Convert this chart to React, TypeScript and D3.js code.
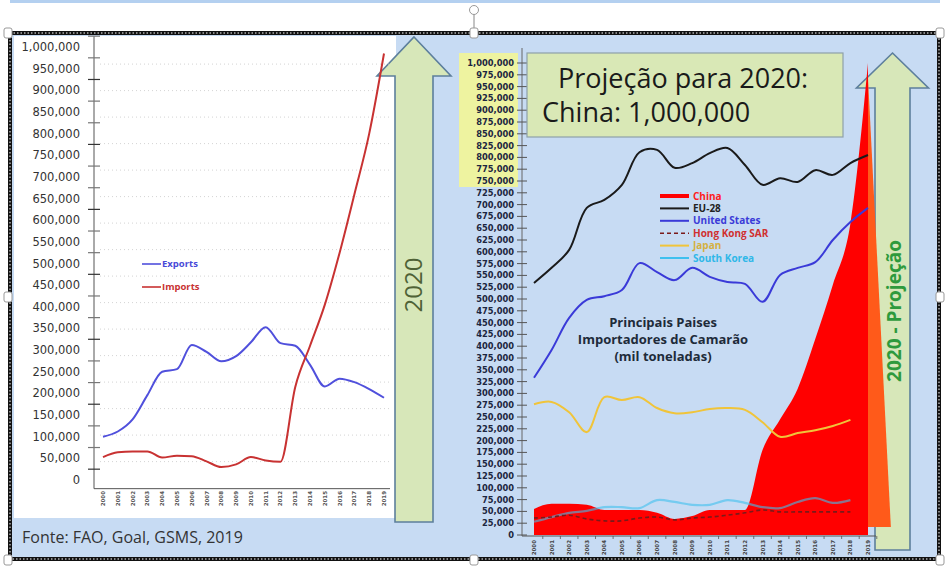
import React from "react";
import * as d3 from "d3";

// ---------- DATA ----------
const years = ["2000","2001","2002","2003","2004","2005","2006","2007","2008","2009","2010","2011","2012","2013","2014","2015","2016","2017","2018","2019"];

// Left chart (China exports / imports)
const exportsVals = [100000,112000,140000,196000,250000,256000,312000,296000,274000,286000,318000,353000,316000,310000,266000,216000,234000,226000,210000,190000];
const importsVals = [53000,64000,66000,66000,52000,56000,55000,43000,30000,36000,53000,45000,42000,215000,310000,405000,525000,660000,800000,985000];
const leftTickValues = d3.range(0, 1000001, 50000);

// Right chart (main importers)
const chinaVals = [55000,66000,66000,64000,53000,53000,53000,47000,34000,40000,53000,53000,53000,180000,245000,310000,415000,530000,660000,1000000];
const euVals = [534000,566000,604000,693000,710000,742000,811000,816000,778000,788000,809000,820000,784000,742000,756000,748000,773000,763000,788000,805000];
const usVals = [333000,392000,460000,498000,506000,519000,576000,557000,540000,566000,547000,536000,532000,494000,551000,566000,578000,625000,663000,693000];
const hkVals = [36000,38000,42000,34000,30000,30000,36000,38000,32000,36000,38000,42000,47000,53000,49000,49000,49000,49000,49000];
const japanVals = [277000,282000,260000,218000,292000,286000,292000,269000,258000,260000,267000,269000,265000,239000,208000,216000,222000,231000,244000];
const koreaVals = [28000,38000,47000,51000,59000,59000,57000,74000,70000,64000,64000,74000,68000,59000,57000,70000,78000,68000,74000];
const rightTickValues = d3.range(0, 1000001, 25000);

const legendRight = [
  { name: "China", color: "#ff0000", text: "#ff2020", width: 4, dash: "" },
  { name: "EU-28", color: "#1a1a1a", text: "#222222", width: 2, dash: "" },
  { name: "United States", color: "#3a3ad8", text: "#3a3ad8", width: 2, dash: "" },
  { name: "Hong Kong SAR", color: "#7a1a1a", text: "#d03030", width: 1.6, dash: "4,3" },
  { name: "Japan", color: "#f0c43a", text: "#d4b040", width: 2, dash: "" },
  { name: "South Korea", color: "#3ec0ef", text: "#30b8e8", width: 2, dash: "" },
];

const fmt = d3.format(",");

function arrowPath(cx: number, tip: number, base: number, headHalf: number, shaftHalf: number, bottom: number) {
  const p = d3.path();
  p.moveTo(cx, tip);
  p.lineTo(cx + headHalf, base);
  p.lineTo(cx + shaftHalf, base);
  p.lineTo(cx + shaftHalf, bottom);
  p.lineTo(cx - shaftHalf, bottom);
  p.lineTo(cx - shaftHalf, base);
  p.lineTo(cx - headHalf, base);
  p.closePath();
  return p.toString();
}

export default function App() {
  const xL = d3.scalePoint<string>().domain(years).range([103, 384]);
  const yL = d3.scaleLinear().domain([0, 1000000]).range([480, 47]);
  const xR = d3.scalePoint<string>().domain(years).range([534, 868]);
  const yR = d3.scaleLinear().domain([0, 1000000]).range([535, 63]);

  const lineLeft = d3.line<number>().x((_, i) => xL(years[i])!).y(d => yL(d)).curve(d3.curveMonotoneX);
  const lineRight = d3.line<number>().x((_, i) => xR(years[i])!).y(d => yR(d)).curve(d3.curveCatmullRom.alpha(0.5));
  const areaChina = d3.area<number>().x((_, i) => xR(years[i])!).y0(yR(0)).y1(d => yR(d)).curve(d3.curveMonotoneX);

  const leftStep = yL(0) - yL(50000);
  const gridVals = d3.range(0, 16).map(k => yL.invert(yL(0) - leftStep * 0.85 - k * 26.5));
  const last = years[years.length - 1];
  const stepR = xR.step();

  const handles: [number, number][] = [[8, 33], [474, 33], [940, 33], [8, 297], [940, 297], [8, 560], [474, 560], [940, 560]];

  return (
    <div style={{ position: "fixed", left: 0, top: 0 }}>
      <svg width={949} height={574} style={{ display: "block", background: "#ffffff" }}>
        {/* top thin line */}
        <rect x={10} y={0} width={930} height={3} fill="#b4d0f0" />
        {/* inner background */}
        <rect x={12} y={35} width={926} height={522} fill="#c7dbf3" />
        <rect x={14} y={36} width={382} height={482} fill="#ffffff" />

        {/* arrows */}
        <path d={arrowPath(414, 37, 76, 37, 19, 522)} fill="#d7e7b9" stroke="#5d7f9c" strokeWidth={1.6} />
        <path d={arrowPath(892.5, 53, 88, 36, 17.5, 550)} fill="#d7e7b9" stroke="#5d7f9c" strokeWidth={1.6} />

        {/* ---------- LEFT CHART ---------- */}
        {gridVals.map((v, i) => (
          <line key={"g" + i} x1={100} x2={390} y1={yL(v)} y2={yL(v)} stroke="#c8c8c8" strokeWidth={0.8} strokeDasharray="1,3" />
        ))}
        <line x1={94} x2={94} y1={yL(1025000)} y2={yL(-20000)} stroke="#555" strokeWidth={1} />
        <line x1={94} x2={390} y1={yL(-20000)} y2={yL(-20000)} stroke="#555" strokeWidth={1} />
        {leftTickValues.map((v, i) => (
          <line key={"lt" + i} x1={88} x2={100} y1={yL(v + 25000)} y2={yL(v + 25000)} stroke={i % 3 === 0 ? "#333" : "#777"} strokeWidth={1.2} />
        ))}
        {leftTickValues.map((v, i) => (
          <text key={"ll" + i} x={80} y={yL(v)} dy="0.35em" textAnchor="end" fontFamily="DejaVu Sans" fontSize={11.5} fill="#333">{fmt(v)}</text>
        ))}
        {years.map((y, i) => (
          <text key={"lx" + i} transform={`translate(${xL(y)! + 2},${491}) rotate(-90)`} textAnchor="end" fontFamily="DejaVu Sans" fontSize={5.5} fontWeight="bold" fill="#555">{y}</text>
        ))}
        <path d={lineLeft(exportsVals)!} fill="none" stroke="#5050dc" strokeWidth={2} />
        <path d={lineLeft(importsVals)!} fill="none" stroke="#c83232" strokeWidth={2} />
        <line x1={142} x2={161} y1={264} y2={264} stroke="#5050dc" strokeWidth={1.6} />
        <text x={162} y={264} dy="0.35em" fontFamily="Open Sans" fontWeight="bold" fontSize={9.5} fill="#4a4ad8">Exports</text>
        <line x1={142} x2={161} y1={287} y2={287} stroke="#c83232" strokeWidth={1.6} />
        <text x={162} y={287} dy="0.35em" fontFamily="Open Sans" fontWeight="bold" fontSize={9.5} fill="#c83232">Imports</text>

        {/* ---------- RIGHT CHART ---------- */}
        <rect x={459} y={53} width={59} height={134} fill="#eef3a0" />
        <line x1={522} x2={522} y1={48} y2={yR(0) + 1} stroke="#666" strokeWidth={1} />
        {rightTickValues.map((v, i) => (
          <line key={"rt" + i} x1={517} x2={527} y1={yR(v)} y2={yR(v)} stroke="#555" strokeWidth={1} />
        ))}
        {rightTickValues.map((v, i) => (
          <text key={"rl" + i} x={514} y={yR(v)} dy="0.35em" textAnchor="end" fontFamily="DejaVu Sans" fontWeight="bold" fontSize={8.3} fill="#1c2640">{fmt(v)}</text>
        ))}

        {/* orange projection wedge */}
        <path
          d={`M${xR(last)!},${yR(chinaVals[chinaVals.length - 1]) + 15}L${xR(last)! + stepR * 1.3},${yR(0) - 8}L${xR(last)!},${yR(0) - 8}Z`}
          fill="#ff5a1a"
        />
        <path d={areaChina(chinaVals)!} fill="#ff0000" />
        <path d={lineRight(euVals)!} fill="none" stroke="#1a1a1a" strokeWidth={2} />
        <path d={lineRight(usVals)!} fill="none" stroke="#3a3ad8" strokeWidth={2} />
        <path d={lineRight(japanVals)!} fill="none" stroke="#f0c43a" strokeWidth={2} />
        <path d={lineRight(koreaVals)!} fill="none" stroke="#3ec0ef" strokeOpacity={0.6} strokeWidth={2.2} />
        <path d={lineRight(hkVals)!} fill="none" stroke="#7a1a1a" strokeWidth={1.6} strokeDasharray="4,3" />

        <line x1={522} x2={876} y1={yR(0) + 1} y2={yR(0) + 1} stroke="#555" strokeWidth={1} />
        {years.map((y, i) => (
          <line key={"rxt" + i} x1={xR(y)! + stepR / 2} x2={xR(y)! + stepR / 2} y1={yR(0) + 1} y2={yR(0) + 4} stroke="#555" strokeWidth={0.8} />
        ))}
        {years.map((y, i) => (
          <text key={"rx" + i} transform={`translate(${xR(y)! + 2},${540}) rotate(-90)`} textAnchor="end" fontFamily="DejaVu Sans" fontSize={5.5} fontWeight="bold" fill="#444">{y}</text>
        ))}

        {/* legend */}
        {legendRight.map((l, i) => (
          <g key={"lg" + i}>
            <line x1={660} x2={689} y1={196 + i * 12.4} y2={196 + i * 12.4} stroke={l.color} strokeWidth={l.width} strokeDasharray={l.dash} />
            <text x={693} y={196 + i * 12.4} dy="0.35em" fontFamily="Open Sans" fontWeight="bold" fontSize={10} fill={l.text}>{l.name}</text>
          </g>
        ))}

        {/* center title */}
        <g fontFamily="Open Sans" fontWeight="bold" fontSize={13} fill="#1e2b3a" textAnchor="middle">
          <text x={663} y={327}>Principais Paises</text>
          <text x={663} y={344}>Importadores de Camarão</text>
          <text x={663} y={361}>(mil toneladas)</text>
        </g>

        {/* projection box */}
        <rect x={527} y={53} width={316} height={84} fill="#d9e8b6" stroke="#8ea0a8" strokeWidth={1.2} />
        <text x={558} y={88} fontFamily="Open Sans" fontSize={27} fill="#1a1a1a">Projeção para 2020:</text>
        <text x={542} y={122} fontFamily="Open Sans" fontSize={27} fill="#1a1a1a">China: 1,000,000</text>

        {/* arrow texts */}
        <text transform="translate(422,285) rotate(-90)" textAnchor="middle" fontFamily="Open Sans" fontSize={24} fill="#4f6236">2020</text>
        <text transform="translate(901,311) rotate(-90)" textAnchor="middle" fontFamily="Open Sans" fontWeight="bold" fontSize={19} fill="#2e9a3c">2020 - Projeção</text>

        {/* source */}
        <text x={22} y={543} fontFamily="Open Sans" fontSize={16} fill="#333">Fonte: FAO, Goal, GSMS, 2019</text>

        {/* selection frame */}
        <rect x={10} y={33} width={929} height={526} fill="none" stroke="#111" strokeWidth={4} />
        <rect x={10} y={33} width={929} height={526} fill="none" stroke="#ffffff" strokeWidth={1} strokeDasharray="1.5,2" />
        <line x1={474} x2={474} y1={14} y2={33} stroke="#888" strokeWidth={1} />
        <circle cx={474} cy={10} r={4.5} fill="#fff" stroke="#999" strokeWidth={1} />
        {handles.map(([hx, hy], i) => (
          <rect key={"h" + i} x={hx - 4} y={hy - 5} width={8} height={10} rx={2} fill="#ffffff" stroke="#999" strokeWidth={1} />
        ))}
      </svg>
    </div>
  );
}
